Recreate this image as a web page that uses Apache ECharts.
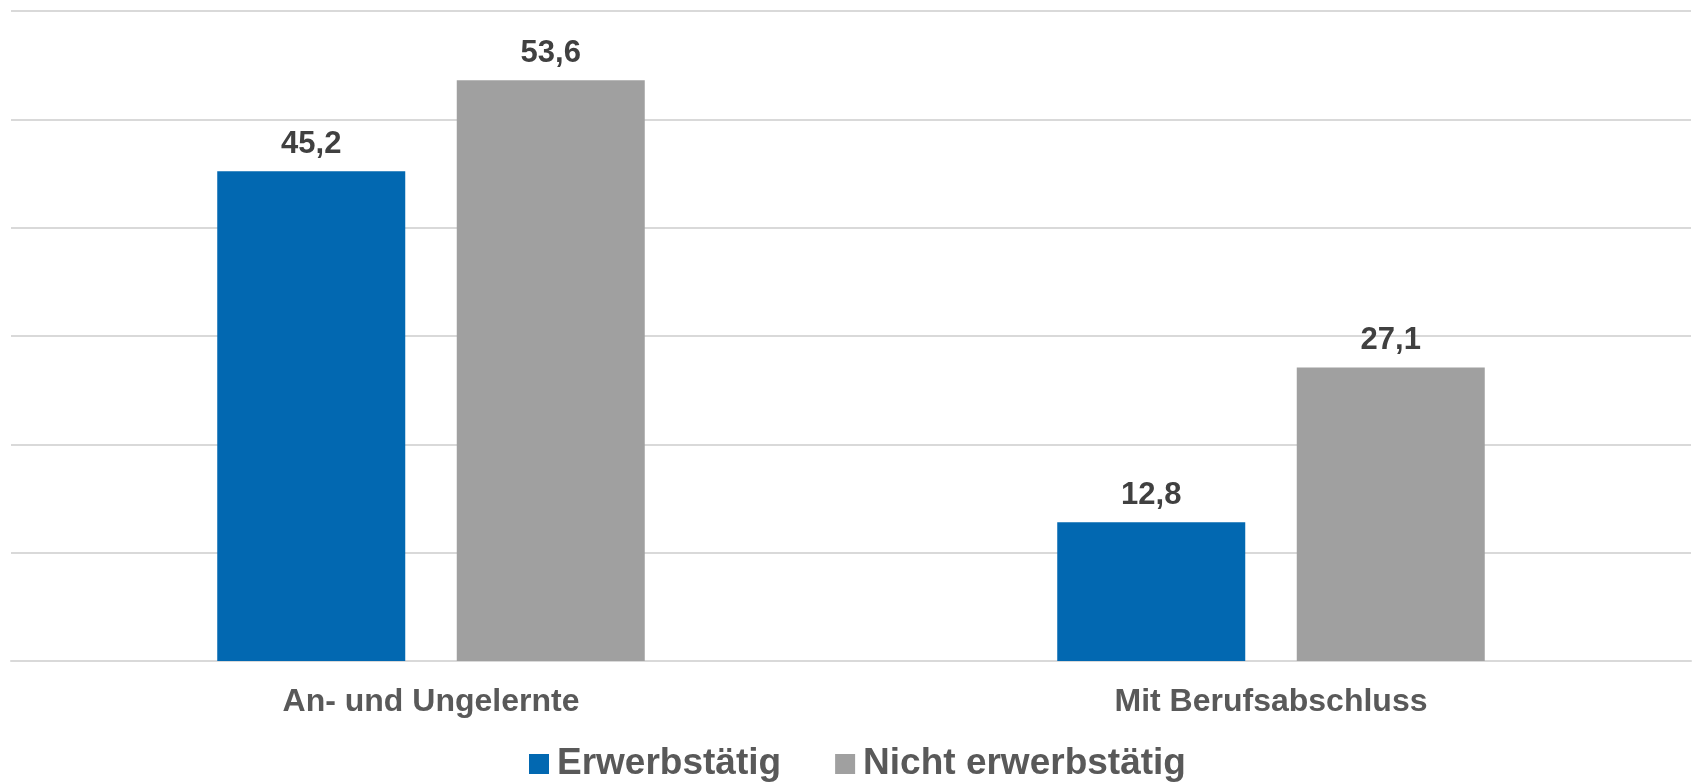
<!DOCTYPE html>
<html>
<head>
<meta charset="utf-8">
<script src="https://cdn.jsdelivr.net/npm/echarts@6/dist/echarts.min.js"></script>
<style>
html,body{margin:0;padding:0;background:#fff;}
#c{width:1692px;height:782px;}
</style>
</head>
<body>
<div id="c"></div>
<script>
const categories = ['An- und Ungelernte', 'Mit Berufsabschluss'];
const seriesNames = ['Erwerbstätig', 'Nicht erwerbstätig'];
const erwerbstaetig = [45.2, 12.8];
const nichtErwerbstaetig = [53.6, 27.1];
const colors = ['#0268B1', '#A0A0A0'];

const FONT = '"Liberation Sans", Arial, sans-serif';
const fmt = p => p.value.toFixed(1).replace('.', ',');

const labelStyle = {
  show: true,
  position: 'top',
  distance: 11,
  formatter: fmt,
  fontFamily: FONT,
  fontWeight: 'bold',
  fontSize: 31,
  color: '#404040'
};

const chart = echarts.init(document.getElementById('c'), null, {renderer: 'canvas'});
chart.setOption({
  animation: false,
  backgroundColor: '#ffffff',
  grid: {left: 11, right: 1, top: 11, bottom: 121, containLabel: false},
  legend: {
    data: seriesNames,
    top: 745,
    left: 529,
    padding: 0,
    icon: 'rect',
    itemWidth: 20,
    itemHeight: 20,
    itemGap: 54,
    textStyle: {fontFamily: FONT, fontWeight: 'bold', fontSize: 37, lineHeight: 38, color: '#595959', padding: [0, 0, 0, 3]}
  },
  xAxis: {
    type: 'category',
    data: categories,
    axisLine: {show: true, lineStyle: {color: '#D9D9D9', width: 2}},
    axisTick: {show: false},
    axisLabel: {fontFamily: FONT, fontWeight: 'bold', fontSize: 32, color: '#595959', margin: 25}
  },
  yAxis: {
    type: 'value',
    min: 0,
    max: 60,
    interval: 10,
    axisLabel: {show: false},
    axisLine: {show: false},
    axisTick: {show: false},
    splitLine: {lineStyle: {color: '#D9D9D9', width: 2}}
  },
  series: [
    {name: seriesNames[0], type: 'bar', data: erwerbstaetig, barWidth: 188, barGap: '27.4%', itemStyle: {color: colors[0]}, label: labelStyle},
    {name: seriesNames[1], type: 'bar', data: nichtErwerbstaetig, barWidth: 188, barGap: '27.4%', itemStyle: {color: colors[1]}, label: labelStyle}
  ]
});
</script>
</body>
</html>
